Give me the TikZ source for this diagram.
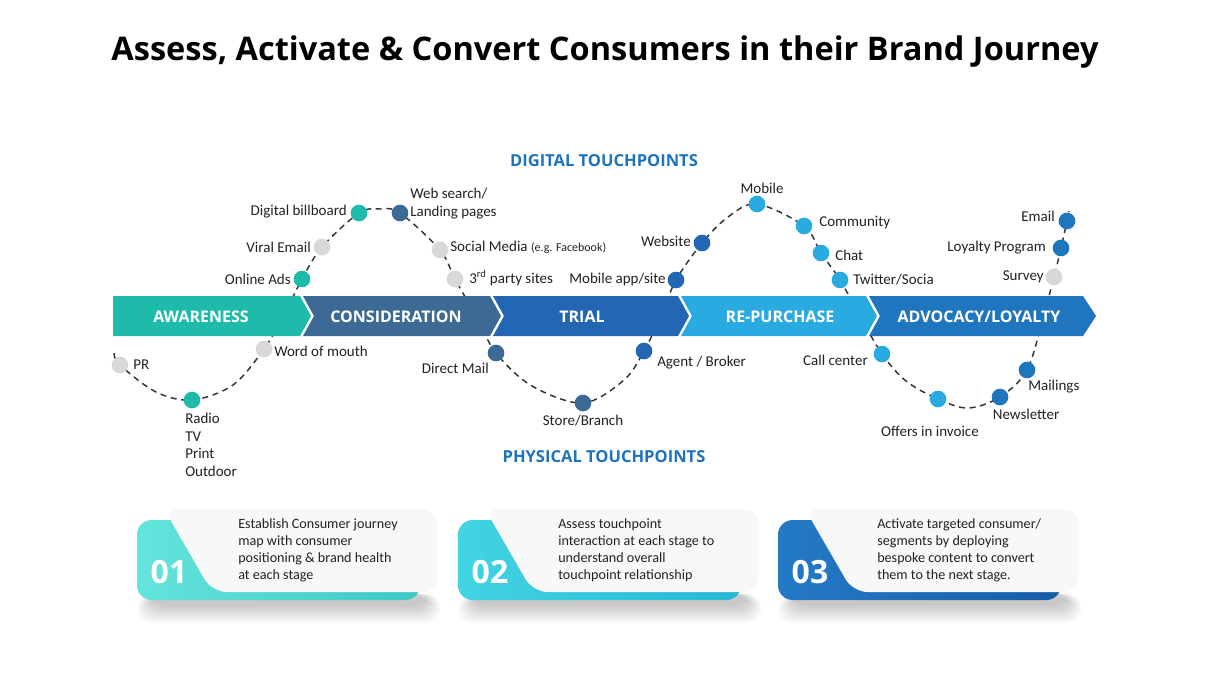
\documentclass[tikz,border=0pt]{standalone}
\usepackage{fontspec}
\setmainfont{Carlito}
\newfontfamily\osans{Open Sans}
\definecolor{cAw}{RGB}{31,187,170}
\definecolor{cCo}{RGB}{60,106,148}
\definecolor{cTr}{RGB}{35,103,180}
\definecolor{cRe}{RGB}{41,171,226}
\definecolor{cAd}{RGB}{32,118,190}
\definecolor{cGr}{RGB}{216,216,216}
\definecolor{cHead}{RGB}{30,115,190}
\definecolor{txt}{RGB}{34,34,34}
\definecolor{cardbg}{RGB}{248,248,248}
\definecolor{k1a}{RGB}{100,228,220}\definecolor{k1b}{RGB}{60,200,196}
\definecolor{k2a}{RGB}{66,212,226}\definecolor{k2b}{RGB}{40,182,214}
\definecolor{k3a}{RGB}{36,122,198}\definecolor{k3b}{RGB}{22,92,168}
\tikzset{
  dot/.style={circle, minimum size=12.5pt, inner sep=0pt},
  lbl/.style={font=\fontsize{11.25}{13.5}\selectfont, text=txt, inner sep=0pt},
  stage/.style={font=\osans\bfseries\fontsize{12}{14}\selectfont, text=white, inner sep=0pt},
  head/.style={font=\osans\bfseries\fontsize{12.4}{15}\selectfont, text=cHead, inner sep=0pt},
  curve/.style={draw=black!80, line width=1.1pt, dash pattern=on 4.5pt off 3.5pt},
  num/.style={font=\osans\bfseries\fontsize{24}{28}\selectfont, text=white, inner sep=0pt},
  cardtxt/.style={font=\fontsize{10.6}{12.75}\selectfont, text=txt, align=left, inner sep=0pt},
  shadowpiece/.style={fill=black, opacity=0.028, rounded corners=10pt},
}
\newcommand\mycard[6]{%
\begin{scope}[shift={(#1,0)}]
  \foreach \i in {0,...,7} {
    \fill[shadowpiece] ({152-2*\i},594) rectangle ({426+2*\i},{606+2.4*\i});
  }
  \path[left color=#2, right color=#3, rounded corners=11pt] (137,520) rectangle (420,600);
  \path[fill=cardbg, rounded corners=11pt] (164,509) -- (437,509) -- (437,592) -- (212,592) -- cycle;
  \node[num] (n#4) at (169,572) {#4};
  \node[cardtxt, anchor=north west] (t#4) at (#6,518) {#5};
\end{scope}}
\begin{document}
\begin{tikzpicture}[x=0.75pt,y=-0.75pt]
\useasboundingbox (0,0) rectangle (1209,687);
\fill[white] (0,0) rectangle (1209,687);

\node[font=\osans\bfseries\fontsize{24.4}{29}\selectfont, text=black] (title) at (605,52) {Assess, Activate \& Convert Consumers in their Brand Journey};

\node[head] (hdig) at (604,161) {DIGITAL TOUCHPOINTS};
\node[head] (hphy) at (604,457) {PHYSICAL TOUCHPOINTS};

% curve coordinates
\coordinate (s0) at (114,353);
\coordinate (pPR) at (120,365);
\coordinate (a1) at (156,392);
\coordinate (pRadio) at (192,400);
\coordinate (a2) at (233,385);
\coordinate (pWoM) at (264,349);
\coordinate (x1) at (284,315);
\coordinate (pOA) at (302,279);
\coordinate (pVE) at (322,247);
\coordinate (pDB) at (359,213);
\coordinate (pk1) at (380,209);
\coordinate (pWS) at (400,213);
\coordinate (pSM) at (440,250);
\coordinate (p3P) at (455,279);
\coordinate (x2) at (476,316);
\coordinate (pDM) at (496,353);
\coordinate (b1) at (532,386);
\coordinate (pSB) at (583,403);
\coordinate (b2) at (624,380);
\coordinate (pAB) at (644,351);
\coordinate (x3) at (661,316);
\coordinate (pMA) at (676,280);
\coordinate (pWe) at (702,243);
\coordinate (c1) at (728,217);
\coordinate (pMo) at (757,204);
\coordinate (pCo) at (804,226);
\coordinate (pCh) at (821,253);
\coordinate (pTw) at (840,280);
\coordinate (x4) at (860,316);
\coordinate (pCC) at (882,354);
\coordinate (d1) at (906,381);
\coordinate (pOI) at (938,399);
\coordinate (bt) at (968,408);
\coordinate (pNL) at (1000,397);
\coordinate (pMl) at (1027,370);
\coordinate (x5) at (1043,318);
\coordinate (pSu) at (1054,277);
\coordinate (pLP) at (1061,248);
\coordinate (pEm) at (1067,221);
\coordinate (e0) at (1069,211);

\draw[curve] plot[smooth, tension=0.55] coordinates {(s0) (pPR) (a1) (pRadio) (a2) (pWoM) (x1) (pOA) (pVE) (pDB) (pk1) (pWS) (pSM) (p3P) (x2) (pDM) (b1) (pSB) (b2) (pAB) (x3) (pMA) (pWe) (c1) (pMo) (pCo) (pCh) (pTw) (x4) (pCC) (d1) (pOI) (bt) (pNL) (pMl) (x5) (pSu) (pLP) (pEm) (e0)};

% chevron band
\fill[cAw] (113,296) -- (300,296) -- (311,316) -- (300,336) -- (113,336) -- cycle;
\fill[cCo] (303,296) -- (490,296) -- (501,316) -- (490,336) -- (303,336) -- (314,316) -- cycle;
\fill[cTr] (493,296) -- (678,296) -- (689,316) -- (678,336) -- (493,336) -- (504,316) -- cycle;
\fill[cRe] (681,296) -- (866,296) -- (877,316) -- (866,336) -- (681,336) -- (692,316) -- cycle;
\fill[cAd] (869,296) -- (1083,296) -- (1096,316) -- (1083,336) -- (869,336) -- (880,316) -- cycle;
\node[stage] (sAw) at (201,317) {AWARENESS};
\node[stage] (sCo) at (396,317) {CONSIDERATION};
\node[stage] (sTr) at (582,317) {TRIAL};
\node[stage] (sRe) at (780,317) {RE-PURCHASE};
\node[stage] (sAd) at (979,317) {ADVOCACY/LOYALTY};

% dots
\node[dot, fill=cGr] (dPR) at (pPR) {};
\node[dot, fill=cAw] (dRadio) at (pRadio) {};
\node[dot, fill=cGr] (dWoM) at (pWoM) {};
\node[dot, fill=cAw] (dOA) at (pOA) {};
\node[dot, fill=cGr] (dVE) at (pVE) {};
\node[dot, fill=cAw] (dDB) at (pDB) {};
\node[dot, fill=cCo] (dWS) at (pWS) {};
\node[dot, fill=cGr] (dSM) at (pSM) {};
\node[dot, fill=cGr] (d3P) at (p3P) {};
\node[dot, fill=cCo] (dDM) at (pDM) {};
\node[dot, fill=cCo] (dSB) at (pSB) {};
\node[dot, fill=cTr] (dAB) at (pAB) {};
\node[dot, fill=cTr] (dMA) at (pMA) {};
\node[dot, fill=cTr] (dWe) at (pWe) {};
\node[dot, fill=cRe] (dMo) at (pMo) {};
\node[dot, fill=cRe] (dCo) at (pCo) {};
\node[dot, fill=cRe] (dCh) at (pCh) {};
\node[dot, fill=cRe] (dTw) at (pTw) {};
\node[dot, fill=cRe] (dCC) at (pCC) {};
\node[dot, fill=cRe] (dOI) at (pOI) {};
\node[dot, fill=cAd] (dNL) at (pNL) {};
\node[dot, fill=cAd] (dMl) at (pMl) {};
\node[dot, fill=cGr] (dSu) at (pSu) {};
\node[dot, fill=cAd] (dLP) at (pLP) {};
\node[dot, fill=cAd] (dEm) at (pEm) {};

% labels
\node[lbl, anchor=west] (lPR) at (133,365) {PR};
\node[lbl, anchor=north west, align=left, font=\fontsize{11.25}{13.2}\selectfont] (lRadio) at (185,413) {Radio\\TV\\Print\\Outdoor};
\node[lbl, anchor=west] (lWoM) at (274,351) {Word of mouth};
\node[lbl, anchor=east] (lOA) at (291,279) {Online Ads};
\node[lbl, anchor=east] (lVE) at (311,247) {Viral Email};
\node[lbl, anchor=east] (lDB) at (347,212) {Digital billboard};
\node[lbl, anchor=west, align=left] (lWS) at (410,204) {Web search/\\Landing pages};
\node[lbl, anchor=west] (lSM) at (450,247) {Social Media {\fontsize{9}{10}\selectfont(e.g. Facebook)}};
\node[lbl, anchor=west] (l3P) at (469,278) {3\textsuperscript{rd} party sites};
\node[lbl, anchor=east] (lDM) at (489,368) {Direct Mail};
\node[lbl] (lSB) at (583,421) {Store/Branch};
\node[lbl, anchor=west] (lAB) at (657,363) {Agent / Broker};
\node[lbl, anchor=east] (lMA) at (666,279) {Mobile app/site};
\node[lbl, anchor=east] (lWe) at (691,241) {Website};
\node[lbl] (lMo) at (762,188) {Mobile};
\node[lbl, anchor=west] (lCo) at (819,223) {Community};
\node[lbl, anchor=west] (lCh) at (835,255) {Chat};
\node[lbl, anchor=west] (lTw) at (853,280) {Twitter/Socia};
\node[lbl, anchor=east] (lCC) at (868,360) {Call center};
\node[lbl] (lOI) at (930,431) {Offers in invoice};
\node[lbl] (lNL) at (1026,414) {Newsletter};
\node[lbl, anchor=west] (lMl) at (1028,387) {Mailings};
\node[lbl, anchor=east] (lSu) at (1044,277) {Survey};
\node[lbl, anchor=east] (lLP) at (1046,248) {Loyalty Program};
\node[lbl, anchor=east] (lEm) at (1055,216) {Email};

% cards
\mycard{0}{k1a}{k1b}{01}{Establish Consumer journey\\map with consumer\\positioning \& brand health\\at each stage}{238}
\mycard{321}{k2a}{k2b}{02}{Assess touchpoint\\interaction at each stage to\\understand overall\\touchpoint relationship}{237}
\mycard{641}{k3a}{k3b}{03}{Activate targeted consumer/\\segments by deploying\\bespoke content to convert\\them to the next stage.}{236}
\end{tikzpicture}
\end{document}
